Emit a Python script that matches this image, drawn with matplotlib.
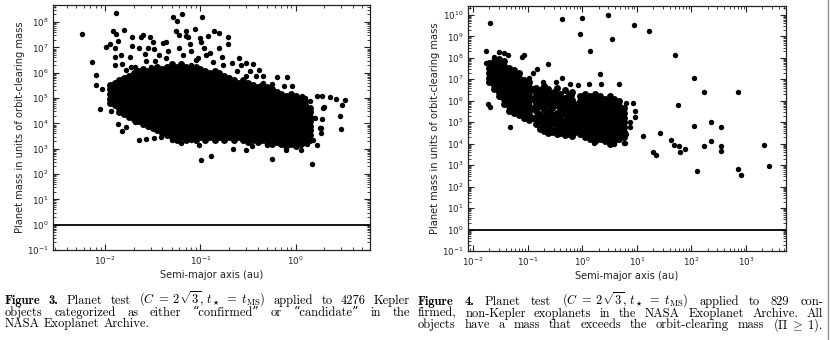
import matplotlib
matplotlib.use("Agg")
import matplotlib.pyplot as plt
import numpy as np
from matplotlib.lines import Line2D
from matplotlib.ticker import LogLocator

# ---- data (log10 of semi-major axis [au], log10 of mass ratio) ----
# Fig. 3, dense core read column by column
kepler_core = [
    (-1.95, [4.80, 4.98, 5.16, 5.34, 5.52]),
    (-1.90, [4.71, 4.89, 5.07, 5.25, 5.43, 5.61]),
    (-1.85, [4.44, 4.62, 4.80, 4.98, 5.16, 5.34, 5.52, 5.70]),
    (-1.80, [4.35, 4.53, 4.71, 4.89, 5.07, 5.25, 5.43, 5.61, 5.79]),
    (-1.75, [4.26, 4.44, 4.62, 4.80, 4.98, 5.16, 5.34, 5.52, 5.70, 5.88]),
    (-1.70, [4.17, 4.35, 4.53, 4.71, 4.89, 5.07, 5.25, 5.43, 5.61, 5.79, 5.97]),
    (-1.65, [4.08, 4.26, 4.44, 4.62, 4.80, 4.98, 5.16, 5.34, 5.52, 5.70, 5.88, 6.06]),
    (-1.60, [3.99, 4.17, 4.35, 4.53, 4.71, 4.89, 5.07, 5.25, 5.43, 5.61, 5.79, 5.97, 6.15]),
    (-1.55, [3.90, 4.08, 4.26, 4.44, 4.62, 4.80, 4.98, 5.16, 5.34, 5.52, 5.70, 5.88, 6.06]),
    (-1.50, [3.81, 3.99, 4.17, 4.35, 4.53, 4.71, 4.89, 5.07, 5.25, 5.43, 5.61, 5.79, 5.97, 6.15]),
    (-1.45, [3.72, 3.90, 4.08, 4.26, 4.44, 4.62, 4.80, 4.98, 5.16, 5.34, 5.52, 5.70, 5.88, 6.06, 6.24]),
    (-1.40, [3.63, 3.81, 3.99, 4.17, 4.35, 4.53, 4.71, 4.89, 5.07, 5.25, 5.43, 5.61, 5.79, 5.97, 6.15]),
    (-1.35, [3.54, 3.72, 3.90, 4.08, 4.26, 4.44, 4.62, 4.80, 4.98, 5.16, 5.34, 5.52, 5.70, 5.88, 6.06, 6.24]),
    (-1.30, [3.45, 3.63, 3.81, 3.99, 4.17, 4.35, 4.53, 4.71, 4.89, 5.07, 5.25, 5.43, 5.61, 5.79, 5.97, 6.15, 6.33]),
    (-1.25, [3.36, 3.54, 3.72, 3.90, 4.08, 4.26, 4.44, 4.62, 4.80, 4.98, 5.16, 5.34, 5.52, 5.70, 5.88, 6.06, 6.24]),
    (-1.20, [3.45, 3.63, 3.81, 3.99, 4.17, 4.35, 4.53, 4.71, 4.89, 5.07, 5.25, 5.43, 5.61, 5.79, 5.97, 6.15, 6.33]),
    (-1.15, [3.36, 3.54, 3.72, 3.90, 4.08, 4.26, 4.44, 4.62, 4.80, 4.98, 5.16, 5.34, 5.52, 5.70, 5.88, 6.06, 6.24]),
    (-1.10, [3.45, 3.63, 3.81, 3.99, 4.17, 4.35, 4.53, 4.71, 4.89, 5.07, 5.25, 5.43, 5.61, 5.79, 5.97, 6.15]),
    (-1.05, [3.36, 3.54, 3.72, 3.90, 4.08, 4.26, 4.44, 4.62, 4.80, 4.98, 5.16, 5.34, 5.52, 5.70, 5.88, 6.06, 6.24]),
    (-1.00, [3.45, 3.63, 3.81, 3.99, 4.17, 4.35, 4.53, 4.71, 4.89, 5.07, 5.25, 5.43, 5.61, 5.79, 5.97, 6.15]),
    (-0.95, [3.36, 3.54, 3.72, 3.90, 4.08, 4.26, 4.44, 4.62, 4.80, 4.98, 5.16, 5.34, 5.52, 5.70, 5.88, 6.06]),
    (-0.90, [3.45, 3.63, 3.81, 3.99, 4.17, 4.35, 4.53, 4.71, 4.89, 5.07, 5.25, 5.43, 5.61, 5.79, 5.97]),
    (-0.85, [3.36, 3.54, 3.72, 3.90, 4.08, 4.26, 4.44, 4.62, 4.80, 4.98, 5.16, 5.34, 5.52, 5.70, 5.88, 6.06]),
    (-0.80, [3.45, 3.63, 3.81, 3.99, 4.17, 4.35, 4.53, 4.71, 4.89, 5.07, 5.25, 5.43, 5.61, 5.79, 5.97]),
    (-0.75, [3.36, 3.54, 3.72, 3.90, 4.08, 4.26, 4.44, 4.62, 4.80, 4.98, 5.16, 5.34, 5.52, 5.70, 5.88]),
    (-0.70, [3.45, 3.63, 3.81, 3.99, 4.17, 4.35, 4.53, 4.71, 4.89, 5.07, 5.25, 5.43, 5.61, 5.79]),
    (-0.65, [3.36, 3.54, 3.72, 3.90, 4.08, 4.26, 4.44, 4.62, 4.80, 4.98, 5.16, 5.34, 5.52, 5.70]),
    (-0.60, [3.45, 3.63, 3.81, 3.99, 4.17, 4.35, 4.53, 4.71, 4.89, 5.07, 5.25, 5.43, 5.61]),
    (-0.55, [3.36, 3.54, 3.72, 3.90, 4.08, 4.26, 4.44, 4.62, 4.80, 4.98, 5.16, 5.34, 5.52, 5.70]),
    (-0.50, [3.27, 3.45, 3.63, 3.81, 3.99, 4.17, 4.35, 4.53, 4.71, 4.89, 5.07, 5.25, 5.43, 5.61]),
    (-0.45, [3.36, 3.54, 3.72, 3.90, 4.08, 4.26, 4.44, 4.62, 4.80, 4.98, 5.16, 5.34, 5.52]),
    (-0.40, [3.27, 3.45, 3.63, 3.81, 3.99, 4.17, 4.35, 4.53, 4.71, 4.89, 5.07, 5.25, 5.43]),
    (-0.35, [3.36, 3.54, 3.72, 3.90, 4.08, 4.26, 4.44, 4.62, 4.80, 4.98, 5.16, 5.34, 5.52]),
    (-0.30, [3.27, 3.45, 3.63, 3.81, 3.99, 4.17, 4.35, 4.53, 4.71, 4.89, 5.07, 5.25, 5.43]),
    (-0.25, [3.18, 3.36, 3.54, 3.72, 3.90, 4.08, 4.26, 4.44, 4.62, 4.80, 4.98, 5.16, 5.34]),
    (-0.20, [3.27, 3.45, 3.63, 3.81, 3.99, 4.17, 4.35, 4.53, 4.71, 4.89, 5.07, 5.25]),
    (-0.15, [3.18, 3.36, 3.54, 3.72, 3.90, 4.08, 4.26, 4.44, 4.62, 4.80, 4.98, 5.16]),
    (-0.10, [3.09, 3.27, 3.45, 3.63, 3.81, 3.99, 4.17, 4.35, 4.53, 4.71, 4.89, 5.07]),
    (-0.05, [3.18, 3.36, 3.54, 3.72, 3.90, 4.08, 4.26, 4.44, 4.62, 4.80, 4.98, 5.16]),
    (0.00, [3.09, 3.27, 3.45, 3.63, 3.81, 3.99, 4.17, 4.35, 4.53, 4.71, 4.89, 5.07]),
    (0.05, [3.18, 3.36, 3.54, 3.72, 3.90, 4.08, 4.26, 4.44, 4.62, 4.80, 4.98]),
    (0.10, [3.27, 3.45, 3.63, 3.81, 3.99, 4.17, 4.35, 4.53, 4.71, 4.89]),
    (0.15, [3.36, 3.54, 3.72, 3.90, 4.08, 4.26, 4.44, 4.62]),
]

# Fig. 3, scattered points outside the core
kepler_loga = [
    -2.24, -1.88, -1.92, -1.88, -1.80, -2.14, -2.09, -2.09, -1.99, -1.95,
    -1.90, -1.86, -1.90, -1.89, -1.83, -1.82, -1.78, -1.74, -1.72, -1.72,
    -1.73, -1.69, -1.64, -1.62, -1.60, -1.58, -1.57, -1.53, -1.50, -1.55,
    -1.49, -1.52, -1.48, -1.43, -1.39, -1.36, -1.34, -1.36, -1.29, -1.25,
    -1.19, -1.22, -1.26, -1.15, -1.13, -1.22, -1.18, -1.11, -1.10, -1.06,
    -0.98, -0.99, -0.92, -0.96, -0.94, -1.02, -1.10, -1.05, -1.00, -1.15,
    -0.86, -0.81, -0.71, -0.71, -0.81, -0.77, -0.90, -0.87, -0.76, -0.67,
    -0.59, -0.57, -0.52, -0.45, -0.39, -0.34, -0.42, -0.52, -0.20, -0.09,
    -0.25, -0.12, -0.04, -0.34, -0.62, -0.48,
    -2.03, -2.05, -1.93, -1.94, -1.86, -1.82, -1.78, -1.69, -1.64, -1.57,
    -1.49, -1.41, -1.01, -0.99, -0.89, -1.10, -1.30, -1.20,
    -0.66, -0.52, -0.46, -0.25, 0.17, 0.22, 0.18, 0.25, 0.27, 0.47,
    0.46, 0.42, 0.48, 0.36, 0.28, 0.22, 0.15, 0.07, 0.29, 0.26,
    0.26, 0.20, 0.30, 0.52, -0.30, -0.10, 0.05, 0.10, 0.12,
]
kepler_logm = [
    7.53, 8.35, 7.65, 7.52, 7.70, 6.42, 5.89, 5.50, 7.01, 7.13,
    6.97, 7.26, 6.62, 6.31, 6.68, 6.35, 6.11, 6.60, 7.39, 7.07,
    6.24, 6.24, 6.99, 7.40, 7.47, 6.75, 6.48, 7.39, 7.23, 6.97,
    6.94, 6.24, 6.47, 6.71, 7.17, 7.23, 6.84, 6.58, 8.18, 8.05,
    8.32, 7.50, 7.65, 7.65, 7.39, 6.97, 6.68, 7.14, 6.84, 7.73,
    8.18, 7.21, 7.43, 6.99, 6.71, 6.58, 6.31, 6.50, 7.38, 7.43,
    7.65, 7.56, 7.39, 7.13, 6.97, 6.62, 6.77, 6.44, 6.31, 6.38,
    6.58, 6.31, 6.38, 6.35, 6.11, 5.85, 5.85, 5.85, 5.81, 5.83,
    5.55, 5.46, 5.46, 5.59, 6.05, 6.05,
    5.36, 4.58, 4.90, 4.50, 3.97, 3.71, 3.85, 4.07, 3.33, 3.39,
    3.42, 3.48, 3.13, 2.56, 2.73, 3.35, 3.35, 3.22,
    3.00, 2.93, 3.09, 2.60, 2.41, 3.16, 3.35, 3.81, 4.17, 3.78,
    4.28, 4.97, 4.74, 5.04, 5.07, 5.07, 4.87, 5.06, 4.61, 3.82,
    3.62, 4.21, 4.65, 4.93, 3.15, 2.95, 2.95, 5.00, 3.20,
]

# Fig. 4, the two crowded groups read column by column
other_core = [
    (-1.70, [6.86, 7.08, 7.30, 7.52, 7.74]),
    (-1.61, [6.53, 6.75, 6.97, 7.19, 7.41, 7.63, 7.85]),
    (-1.52, [6.20, 6.42, 6.64, 6.86, 7.08, 7.30, 7.52, 7.74, 7.96]),
    (-1.43, [5.87, 6.09, 6.31, 6.53, 6.75, 6.97, 7.19, 7.41, 7.63, 7.85]),
    (-1.34, [5.54, 5.76, 5.98, 6.20, 6.42, 6.64, 6.86, 7.08, 7.30, 7.52]),
    (-1.25, [5.43, 5.65, 5.87, 6.09, 6.31, 6.53, 6.75, 6.97, 7.19, 7.41]),
    (-1.16, [5.32, 5.54, 5.76, 5.98, 6.20, 6.42, 6.64, 6.86, 7.08, 7.30]),
    (-1.07, [5.21, 5.43, 5.65, 5.87, 6.09, 6.31, 6.53, 6.75, 6.97]),
    (-0.98, [5.10, 5.32, 5.54, 5.76, 5.98, 6.20, 6.42, 6.64, 6.86]),
    (-0.91, [5.21, 5.65, 6.09, 6.53]),
    (-0.85, [4.90, 5.20, 5.50, 5.90, 6.30, 6.60]),
    (-0.81, [5.05, 5.35, 5.70, 6.10, 6.45]),
    (-0.78, [4.70, 5.05, 5.40, 5.75, 6.10, 6.45]),
    (-0.74, [4.80, 5.15, 5.85, 6.25, 6.55]),
    (-0.70, [4.60, 4.95, 5.30, 5.60, 6.00, 6.40, 6.70]),
    (-0.66, [4.70, 5.00, 5.30, 6.05, 6.40]),
    (-0.62, [4.50, 4.80, 5.10, 5.50, 5.85, 6.20, 6.55]),
    (-0.58, [4.65, 5.00, 5.40, 5.80, 6.15]),
    (-0.55, [4.55, 4.90, 5.25, 5.65, 6.05, 6.35]),
    (-0.51, [4.60, 4.95, 5.30, 6.00, 6.40]),
    (-0.47, [4.45, 4.75, 5.10, 5.45, 5.80, 6.20, 6.60]),
    (-0.43, [4.65, 5.00, 5.35, 5.75, 6.10]),
    (-0.40, [4.50, 4.85, 5.20, 5.55, 5.95, 6.30]),
    (-0.36, [4.55, 4.90, 5.60, 5.95]),
    (-0.32, [4.40, 4.70, 5.05, 5.40, 5.75, 6.15, 6.50]),
    (-0.28, [4.60, 4.95, 5.30, 5.70, 6.10]),
    (-0.25, [4.45, 4.80, 5.15, 5.50, 5.90, 6.30]),
    (-0.21, [4.50, 4.85, 5.20, 5.55, 5.90, 6.25]),
    (-0.18, [4.35, 4.70, 5.00, 5.35, 5.70, 6.05, 6.40]),
    (-0.13, [4.55, 4.77, 4.99, 5.21, 5.43, 5.65, 5.87]),
    (-0.04, [4.44, 4.66, 4.88, 5.10, 5.32, 5.54, 5.76, 5.98, 6.20]),
    (0.05, [4.33, 4.55, 4.77, 4.99, 5.21, 5.43, 5.65, 5.87, 6.09, 6.31]),
    (0.14, [4.22, 4.44, 4.66, 4.88, 5.10, 5.32, 5.54, 5.76, 5.98, 6.20]),
    (0.23, [4.11, 4.33, 4.55, 4.77, 4.99, 5.21, 5.43, 5.65, 5.87, 6.09, 6.31]),
    (0.32, [4.22, 4.44, 4.66, 4.88, 5.10, 5.32, 5.54, 5.76, 5.98, 6.20]),
    (0.41, [4.11, 4.33, 4.55, 4.77, 4.99, 5.21, 5.43, 5.65, 5.87, 6.09]),
    (0.50, [4.00, 4.22, 4.44, 4.66, 4.88, 5.10, 5.32, 5.54, 5.76, 5.98, 6.20]),
    (0.59, [4.11, 4.33, 4.55, 4.77, 4.99, 5.21, 5.43, 5.65, 5.87, 6.09]),
    (0.68, [4.22, 4.44, 4.66, 4.88, 5.10, 5.32, 5.54, 5.76, 5.98]),
    (0.77, [4.33, 4.55, 4.77, 4.99, 5.21, 5.43, 5.65]),
]

# Fig. 4, isolated points
other_loga = [
    -1.68, -0.37, 0.00, 0.47, -0.04, 0.55, 0.95, 1.22, 0.14, 1.70,
    2.05, 2.23, 2.86, 1.76, 2.05, 2.36, 2.55, 1.12, 1.42, 1.62,
    1.68, 1.77, 1.79, 1.88, 1.30, 1.36, 2.23, 2.36, 2.54, 2.55,
    2.10, 2.85, 2.90, 3.33, 3.42,
    -1.77, -1.77, -1.61, -1.53, -1.44, -1.36, -1.10, -1.06, -0.62, -0.83,
    -0.90, -0.72, -0.48, -0.37, -0.23, -0.08, 0.12, 0.32, 0.34, 0.68,
    -0.97, -1.72, -1.68, -1.48, -1.32, 0.21, 0.59, 0.76, 0.93, 0.81,
    0.96, 0.96, 0.87, 0.87, 0.81, 0.78,
]
other_logm = [
    9.62, 9.80, 9.85, 10.00, 9.12, 8.88, 9.51, 9.23, 8.31, 8.15,
    7.05, 6.43, 6.42, 5.81, 4.82, 5.00, 4.80, 4.34, 4.51, 4.15,
    3.92, 3.88, 3.62, 3.77, 3.62, 3.46, 3.88, 4.12, 3.89, 3.65,
    2.74, 2.81, 2.54, 3.95, 2.97,
    8.31, 7.77, 8.03, 8.28, 8.21, 8.15, 8.03, 8.12, 7.72, 7.46,
    7.31, 6.88, 6.88, 7.05, 6.77, 6.74, 6.80, 7.23, 6.77, 6.77,
    7.05, 5.85, 5.72, 6.18, 4.77, 4.03, 4.00, 4.03, 5.88, 5.88,
    5.54, 5.23, 5.03, 4.77, 4.46, 4.03,
]

caption3 = [
    [("Figure", "b"), ("3.", "b"), "Planet", "test",
     r"$(C\;=\;2\sqrt{3},\,t_\star\;=\;t_{\rm MS})$", "applied", "to", "4276", "Kepler"],
    ["objects", "categorized", "as", "either", "\u201cconfirmed\u201d", "or",
     "\u201ccandidate\u201d", "in", "the"],
    ["NASA", "Exoplanet", "Archive."],
]
caption4 = [
    [("Figure", "b"), ("4.", "b"), "Planet", "test",
     r"$(C\;=\;2\sqrt{3},\,t_\star\;=\;t_{\rm MS})$", "applied", "to", "829", "con-"],
    ["firmed,", "non-Kepler", "exoplanets", "in", "the", "NASA", "Exoplanet",
     "Archive.", "All"],
    ["objects", "have", "a", "mass", "that", "exceeds", "the", "orbit-clearing",
     "mass", r"$(\Pi\;\geq\;1)$."],
]


def log_points(loga, logm):
    return 10 ** np.asarray(loga, float), 10 ** np.asarray(logm, float)


def core_points(core):
    xs = [c[0] for c in core for _ in c[1]]
    ys = [v for c in core for v in c[1]]
    return log_points(xs, ys)


W, H = 830, 340
fig = plt.figure(figsize=(W / 100, H / 100), dpi=100)

panels = [
    ([53, 5, 317, 245], kepler_core, kepler_loga, kepler_logm, (0.00285, 6.0), (0.1, 4.7e8)),
    ([468, 6, 318, 245], other_core, other_loga, other_logm, (0.0081, 5400), (0.1, 2.6e10)),
]
for (px, py, pw, ph), core, la, lm, xl, yl in panels:
    ax = fig.add_axes([px / W, 1 - (py + ph) / H, pw / W, ph / H])
    # crowded groups: heavily overlapping dots
    ca, cm = core_points(core)
    ax.plot(ca, cm, "o", color="black", ms=5.0, mew=0)
    a, m = log_points(la, lm)
    ax.plot(a, m, "o", color="black", ms=3.9, mew=0)
    ax.axhline(1.0, color="black", lw=1.3)
    ax.set_xscale("log")
    ax.set_yscale("log")
    ax.set_xlim(*xl)
    ax.set_ylim(*yl)
    for axis in (ax.xaxis, ax.yaxis):
        axis.set_major_locator(LogLocator(base=10, numticks=30))
        axis.set_minor_locator(LogLocator(base=10, subs=np.arange(2, 10), numticks=30))
    ax.tick_params(which="both", direction="in", top=True, right=True,
                   labelsize=6.3, pad=3, colors="#222222")
    ax.tick_params(which="major", length=4, width=0.8)
    ax.tick_params(which="minor", length=2, width=0.6)
    for s in ax.spines.values():
        s.set_linewidth(0.9)
        s.set_color("#222222")
    ax.set_xlabel("Semi-major axis (au)", fontsize=7.1, labelpad=2.5, color="#222222")
    ax.set_ylabel("Planet mass in units of orbit-clearing mass", fontsize=7.1,
                  labelpad=1.5, color="#222222")

# page edge on the right
fig.add_artist(Line2D([828 / W, 828 / W], [0, 1], transform=fig.transFigure,
                      color="#909090", lw=1))

# justified captions
renderer = fig.canvas.get_renderer()
cap_size = 9.0


def put_line(words, x0, x1, y, justify=True):
    objs = []
    for w in words:
        bold = isinstance(w, tuple)
        s = w[0] if bold else w
        fam = ["cmb10", "DejaVu Serif"] if bold else ["cmr10", "DejaVu Serif"]
        t = fig.text(0, 1 - y / H, s, fontsize=cap_size, family=fam,
                     math_fontfamily="cm", va="baseline", ha="left")
        objs.append(t)
    widths = [t.get_window_extent(renderer).width for t in objs]
    space = 0.33 * cap_size * 100 / 72
    if justify and len(objs) > 1:
        gap = (x1 - x0 - sum(widths)) / (len(objs) - 1)
        if gap < 0.6 * space:
            k = (x1 - x0 - 0.6 * space * (len(objs) - 1)) / sum(widths)
            for t in objs:
                t.set_fontsize(cap_size * k)
            widths = [t.get_window_extent(renderer).width for t in objs]
            gap = (x1 - x0 - sum(widths)) / (len(objs) - 1)
    else:
        gap = space
    x = x0
    for t, w in zip(objs, widths):
        t.set_x(x / W)
        x += w + gap


base_y = [304, 315.6, 327.2]
for i, line in enumerate(caption3):
    put_line(line, 5, 410, base_y[i], justify=(i < 2))
for i, line in enumerate(caption4):
    put_line(line, 418, 823, base_y[i] + 1, justify=True)

fig.savefig("out.png", dpi=100)
